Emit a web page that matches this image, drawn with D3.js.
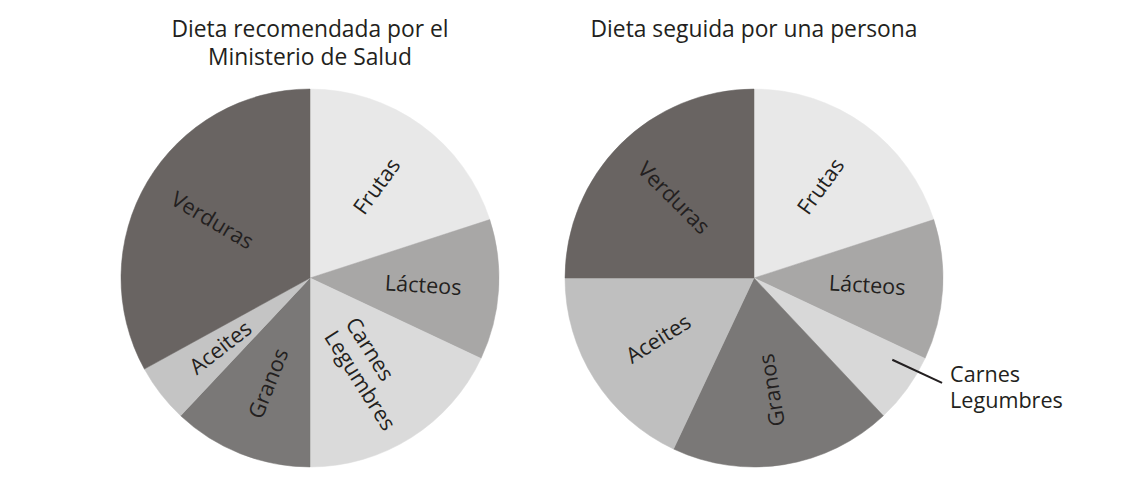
<!DOCTYPE html>
<html><head><meta charset="utf-8">
<script src="https://cdn.jsdelivr.net/npm/d3@7"></script>
<style>html,body{margin:0;padding:0;background:#fff;} svg{display:block;}</style>
</head><body>
<svg id="chart" width="1123" height="498"></svg>
<script>
// ---- data ----
const categories = ["Frutas", "Lácteos", "Carnes Legumbres", "Granos", "Aceites", "Verduras"];
const recommendedValues = [20, 12, 18, 12, 5, 33];
const actualValues = [20, 12, 6, 19, 18, 25];
const recommendedTitle = ["Dieta recomendada por el", "Ministerio de Salud"];
const actualTitle = ["Dieta seguida por una persona"];
const recommendedColors = ["#e8e8e8", "#a8a7a6", "#dadada", "#7a7877", "#c4c4c4", "#696462"];
const actualColors = ["#e8e8e8", "#a8a7a6", "#d8d8d8", "#7a7877", "#bfbfbf", "#696462"];

// ---- layout ----
const svg = d3.select("#chart");
const R = 189;
const textColor = "#231f20";
const font = "'Open Sans', 'Noto Sans', sans-serif";
const labelSize = 21.6;
const titleSize = 22.8;

function drawPie(cx, cy, values, colors, titleLines, outsideIdx) {
  const g = svg.append("g").attr("transform", `translate(${cx},${cy})`);
  const pie = d3.pie().sort(null).value(d => d.v);
  const data = pie(categories.map((c, i) => ({ c, v: values[i], col: colors[i], i })));
  const arc = d3.arc().innerRadius(0).outerRadius(R);

  g.selectAll("path.slice").data(data).join("path")
    .attr("class", "slice")
    .attr("d", arc)
    .attr("fill", d => d.data.col)
    .attr("stroke", d => d.data.col)
    .attr("stroke-width", 0.5);

  const labelArc = d3.arc().innerRadius(R * 0.6).outerRadius(R * 0.6);
  data.forEach(d => {
    const lines = d.data.c.split(" ");
    if (d.data.i === outsideIdx) {
      const a = d.startAngle + 0.25 * (d.endAngle - d.startAngle);
      const r0 = R * 0.85;
      const sx = r0 * Math.sin(a), sy = -r0 * Math.cos(a);
      const ex = R * 0.995, ey = R * 0.555;
      g.append("line").attr("x1", sx).attr("y1", sy).attr("x2", ex).attr("y2", ey)
        .attr("stroke", textColor).attr("stroke-width", 2);
      const t = g.append("text").attr("font-family", font).attr("font-size", labelSize)
        .attr("fill", textColor);
      lines.forEach((ln, k) => {
        t.append("tspan").attr("x", ex + 8).attr("y", ey - 1 + k * 26).text(ln);
      });
      return;
    }
    const [lx, ly] = labelArc.centroid(d);
    const mid = (d.startAngle + d.endAngle) / 2 * 180 / Math.PI;
    const rot = mid < 165 ? mid - 90 : mid - 270;
    const lg = g.append("g").attr("transform", `translate(${lx},${ly}) rotate(${rot})`);
    const lh = 25;
    const t = lg.append("text").attr("font-family", font).attr("font-size", labelSize)
      .attr("fill", textColor);
    const n = lines.length;
    lines.forEach((ln, k) => {
      t.append("tspan").attr("x", 0).attr("y", (k - (n - 1) / 2) * lh).attr("dy", "0.35em").text(ln);
    });
    if (n > 1) {
      const w = t.node().getBBox().width;
      t.attr("text-anchor", "start");
      t.selectAll("tspan").attr("x", -w / 2);
    } else {
      t.attr("text-anchor", "middle");
    }
  });

  const tt = svg.append("text").attr("font-family", font).attr("font-size", titleSize)
    .attr("fill", textColor).attr("text-anchor", "middle");
  titleLines.forEach((ln, k) => {
    tt.append("tspan").attr("x", cx).attr("y", 37 + k * 28).text(ln);
  });
}

drawPie(310, 278, recommendedValues, recommendedColors, recommendedTitle, -1);
drawPie(754, 278, actualValues, actualColors, actualTitle, 2);
</script>
</body></html>
